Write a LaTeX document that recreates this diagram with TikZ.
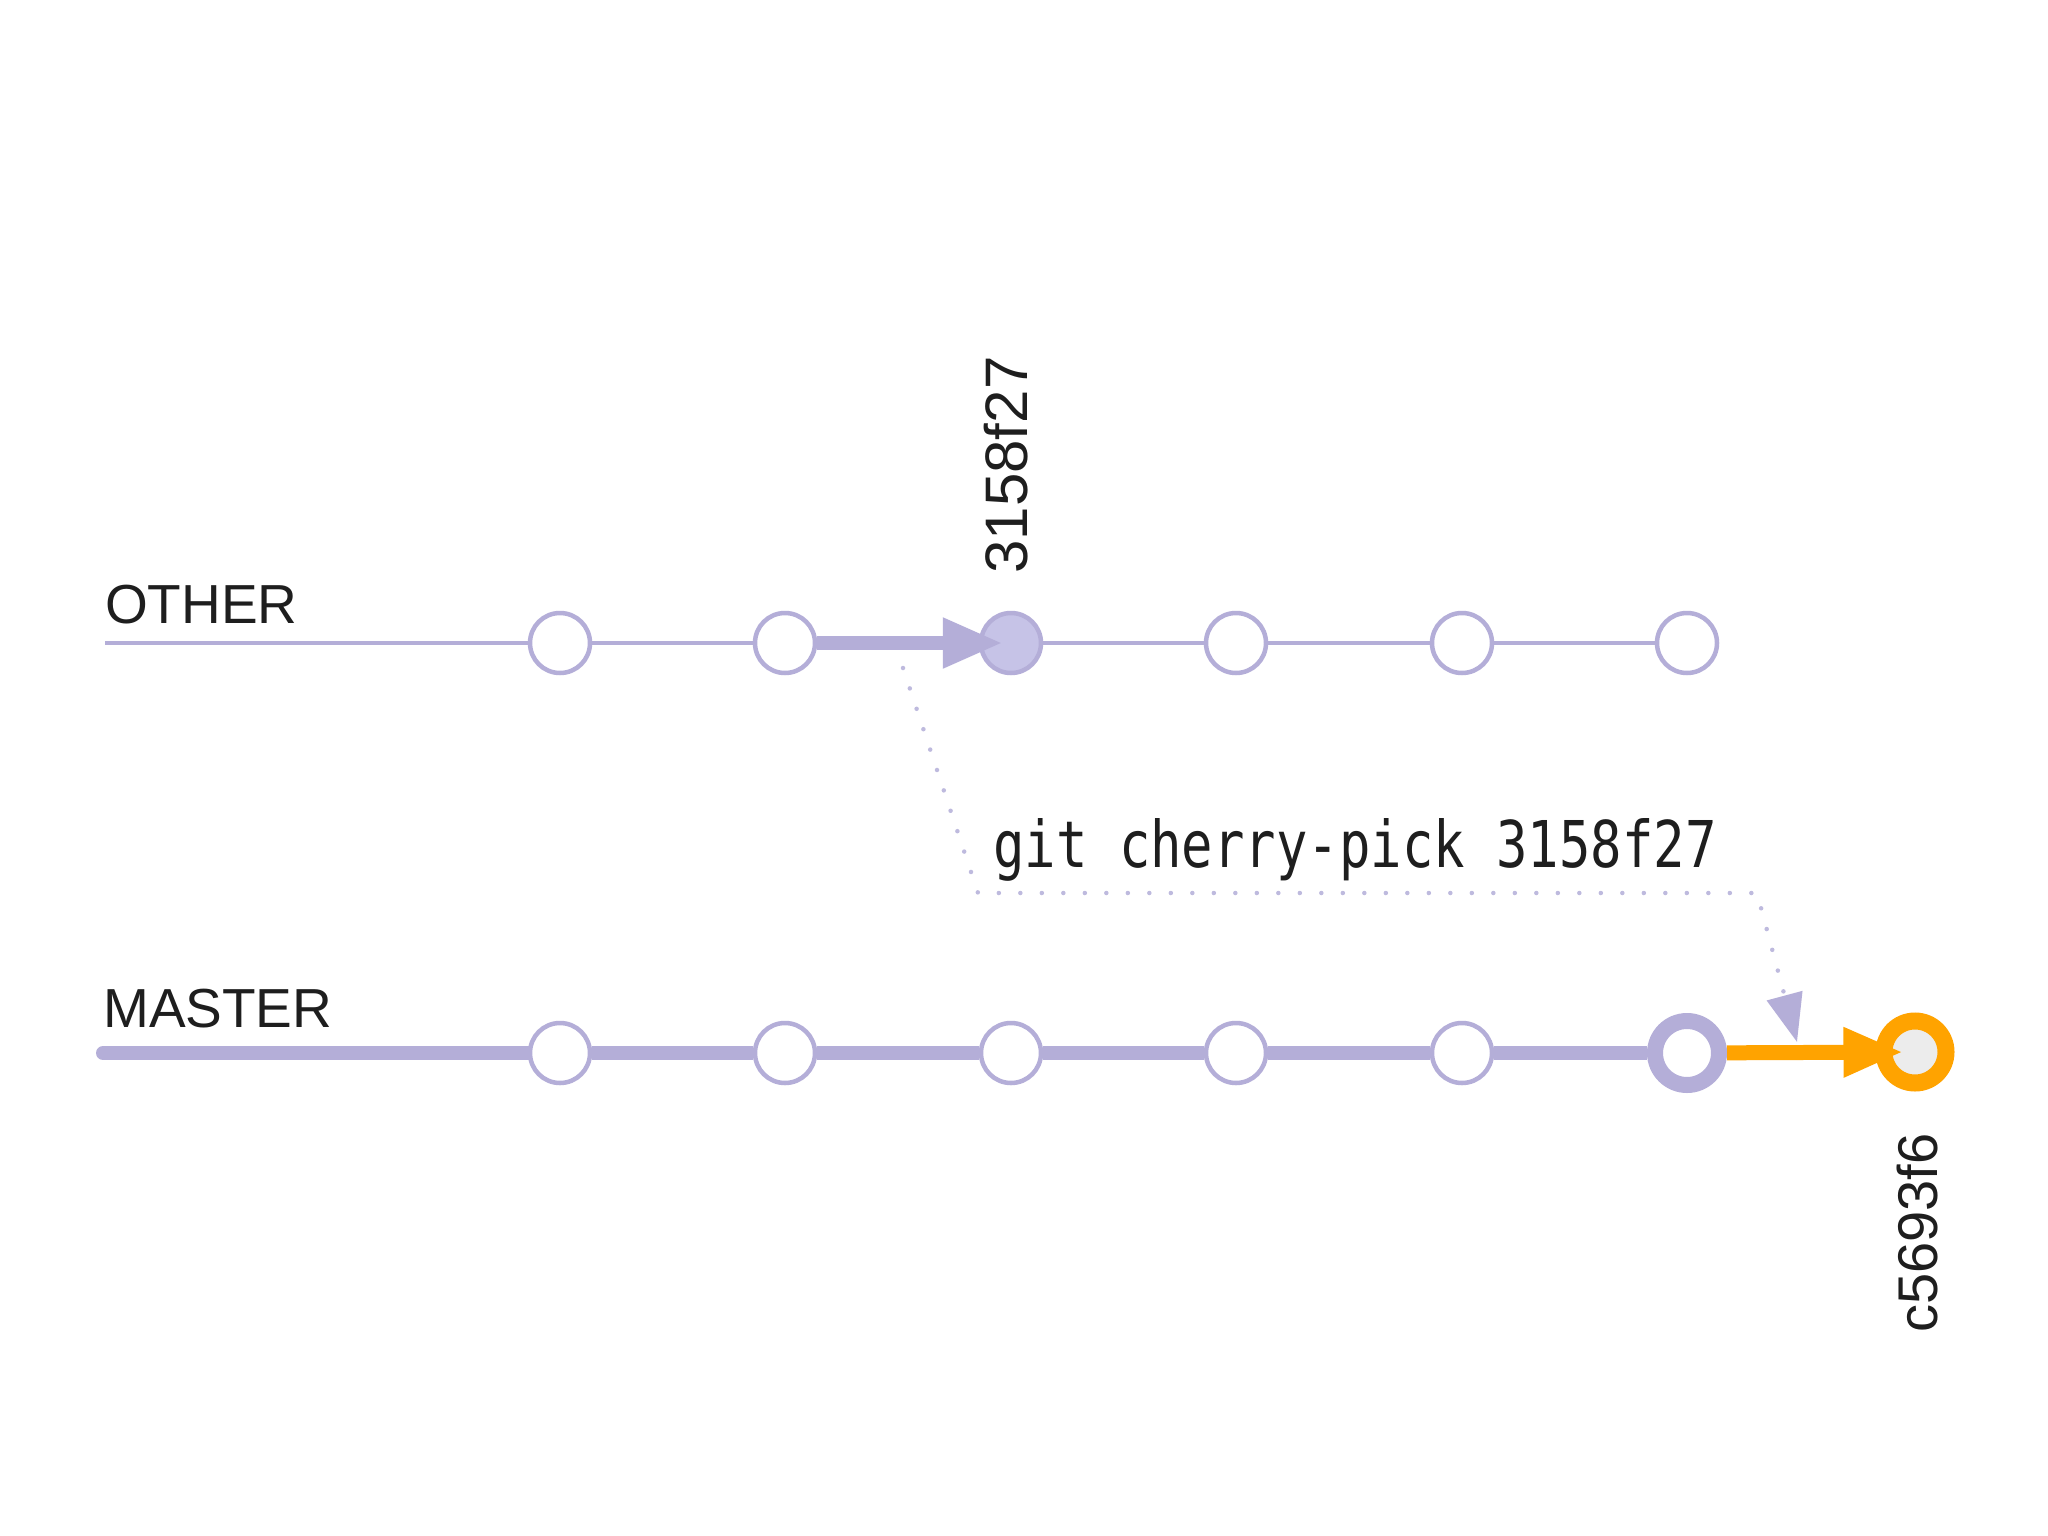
\documentclass[tikz,border=0pt]{standalone}
\usepackage{fontspec}
\setmainfont{Liberation Sans}
\newfontfamily\cmono[FakeStretch=0.81]{DejaVu Sans Mono}
\usetikzlibrary{arrows.meta}
\pgfdeclarelayer{lines}
\pgfsetlayers{lines,main}
\definecolor{lav}{RGB}{180,174,216}
\definecolor{lavfill}{RGB}{198,195,231}
\definecolor{dotcol}{RGB}{190,186,222}
\definecolor{orng}{RGB}{255,163,0}
\definecolor{cfill}{RGB}{236,236,236}
\definecolor{txt}{RGB}{30,30,30}
\begin{document}
\begin{tikzpicture}[x=1pt,y=-1pt,
  commit/.style={circle,draw=lav,line width=4.5pt,fill=white,minimum size=60pt,inner sep=0pt},
  picked/.style={commit,fill=lavfill},
  headc/.style={circle,draw=lav,line width=16pt,fill=white,minimum size=64pt,inner sep=0pt},
  newc/.style={circle,draw=orng,line width=17pt,fill=cfill,minimum size=62pt,inner sep=0pt},
  thinline/.style={draw=lav,line width=4.5pt},
  thickline/.style={draw=lav,line width=14pt},
  lavarrow/.style={draw=lav,line width=14pt,-{Triangle[length=60pt,width=47pt]},shorten >=-24pt},
  orarrow/.style={draw=orng,line width=15pt,-{Triangle[length=60pt,width=46pt]},shorten >=-28pt},
  dots/.style={draw=dotcol,line width=4.5pt,line cap=round,dash pattern=on 0pt off 21.5pt,
    -{Triangle[length=48pt,width=36pt,fill=lav,color=lav]}},
  branch/.style={font=\fontsize{55}{60}\selectfont,text=txt,inner sep=0pt,anchor=base west},
  hash/.style={text=txt,inner sep=0pt,rotate=90},
  cmd/.style={font=\cmono\fontsize{64.5}{70}\selectfont,text=txt,inner sep=0pt,anchor=base}
]
\useasboundingbox (0,0) rectangle (2048,1536);

% labels
\node[branch] (lother) at (105,623) {OTHER};
\node[branch] (lmaster) at (103,1027) {MASTER};

% start coordinates
\coordinate (os) at (105,643);
\coordinate (ms) at (103,1053);

% OTHER commits
\node[commit] (O1) at (560,643) {};
\node[commit] (O2) at (785,643) {};
\node[picked] (O3) at (1011,643) {};
\node[commit] (O4) at (1236,643) {};
\node[commit] (O5) at (1462,643) {};
\node[commit] (O6) at (1687,643) {};

% MASTER commits
\node[commit] (M1) at (560,1053) {};
\node[commit] (M2) at (785,1053) {};
\node[commit] (M3) at (1011,1053) {};
\node[commit] (M4) at (1236,1053) {};
\node[commit] (M5) at (1462,1053) {};
\node[headc] (M6) at (1687,1053) {};
\node[newc] (C) at (1915,1052) {};

\begin{pgfonlayer}{lines}
\fill[white] (0,0) rectangle (2048,1536);
% OTHER lines
\draw[thinline] (os) -- (O1.center);
\draw[thinline] (O1) -- (O2);
\draw[thinline] (O3) -- (O4);
\draw[thinline] (O4) -- (O5);
\draw[thinline] (O5) -- (O6);
% MASTER lines
\draw[thickline,line cap=round] (ms) -- (M1.center);
\draw[thickline] (M1) -- (M2);
\draw[thickline] (M2) -- (M3);
\draw[thickline] (M3) -- (M4);
\draw[thickline] (M4) -- (M5);
\draw[thickline] (M5) -- (M6);
\end{pgfonlayer}

\draw[lavarrow] (O2) -- (O3);
\draw[orarrow] (M6) -- (C);

% hash labels
\node[hash,font=\fontsize{60}{66}\selectfont] (h1) at (1006,465) {3158f27};
\node[hash,font=\fontsize{56}{62}\selectfont] (h2) at (1917,1233) {c5693f6};

% cherry-pick dotted path
\coordinate (d0) at (903,668);
\coordinate (d1) at (978,893);
\coordinate (d2) at (1757,893);
\coordinate (d3) at (1797,1042);
\draw[dots] (d0) -- (d1) -- (d2) -- (d3);

\node[cmd] (cmdtxt) at (1355,867) {git cherry-pick 3158f27};
\end{tikzpicture}
\end{document}
